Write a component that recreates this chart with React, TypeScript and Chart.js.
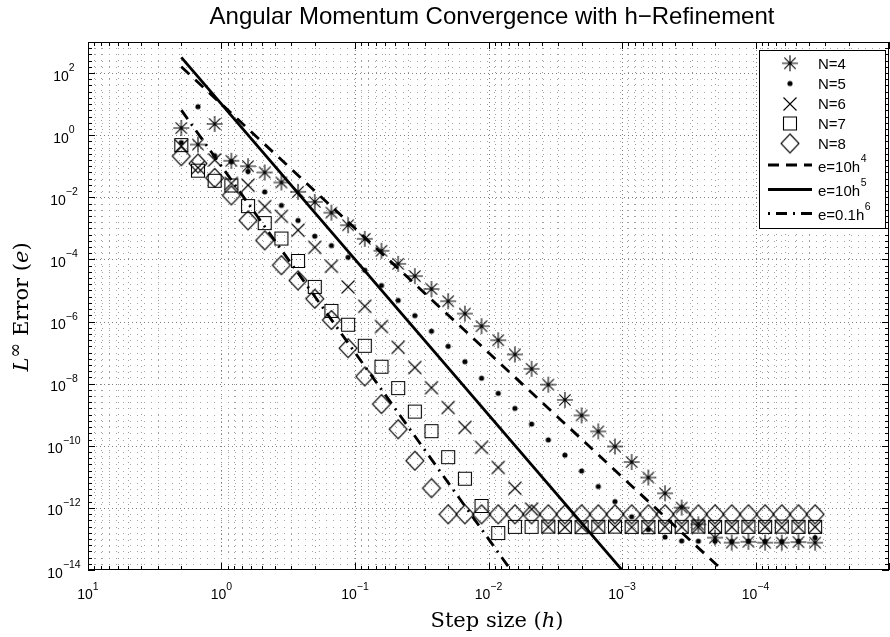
import React, { useEffect, useRef } from 'react';
import { Chart, registerables } from 'chart.js';

Chart.register(...registerables);

// ---------------- data ----------------
const H_STEP = [
  2, 1.5, 1.125, 0.84375, 0.6328, 0.4746, 0.356, 0.267, 0.2002, 0.1502,
  0.1126, 0.08447, 0.06335, 0.04751, 0.03564, 0.02673, 0.02005, 0.01503, 0.01128, 0.008457,
  0.006342, 0.004757, 0.003568, 0.002676, 0.002007, 0.001505, 0.001129, 0.0008466, 0.000635, 0.0004762,
  0.0003572, 0.0002679, 0.0002009, 0.0001507, 0.000113, 0.00008476, 0.00006357, 0.00004768, 0.00003576,
];

const ERR_N4 = [
  1.7, 0.5, 2.3, 0.15, 0.1, 0.063, 0.03, 0.015, 7.1e-3, 3.2e-3,
  1.26e-3, 4.6e-4, 1.9e-4, 7.2e-5, 2.9e-5, 1.12e-5, 4.5e-6, 1.8e-6, 7.1e-7, 2.5e-7,
  8.7e-8, 3.0e-8, 9.3e-9, 3.0e-9, 9.5e-10, 2.9e-10, 9.5e-11, 3.0e-11, 9.5e-12, 2.95e-12,
  1.02e-12, 2.95e-13, 1.1e-13, 7.6e-14, 8.1e-14, 7.6e-14, 7.6e-14, 7.9e-14, 7.6e-14,
];

const ERR_N5 = [
  0.58, 8.3, 0.22, 0.14, 0.068, 0.015, 5.5e-3, 1.8e-3, 5.6e-4, 2.8e-4,
  1.17e-4, 4.5e-5, 1.45e-5, 4.8e-6, 1.55e-6, 4.9e-7, 1.6e-7, 5.1e-8, 1.5e-8, 4.9e-9,
  1.6e-9, 5.0e-10, 1.55e-10, 5.0e-11, 1.55e-11, 4.9e-12, 1.6e-12, 5.2e-13, 2.0e-13, 1.15e-13,
  8.7e-14, 8.5e-14, 8.5e-14, 8.4e-14, 8.6e-14, 8.5e-14, 8.4e-14, 8.6e-14, 1.1e-13,
];

const ERR_N6 = [
  0.45, 0.09, 0.16, 0.028, 0.0245, 5.0e-3, 2.45e-3, 8.7e-4, 2.45e-4, 6.0e-5,
  1.3e-5, 3.1e-6, 6.9e-7, 1.48e-7, 3.3e-8, 7.4e-9, 1.7e-9, 3.9e-10, 8.9e-11, 2.0e-11,
  4.3e-12, 9.1e-13, 2.45e-13, 2.4e-13, 2.45e-13, 2.5e-13, 2.45e-13, 2.4e-13, 2.45e-13, 2.5e-13,
  2.45e-13, 2.4e-13, 2.45e-13, 2.45e-13, 2.5e-13, 2.45e-13, 2.4e-13, 2.45e-13, 2.45e-13,
];

const ERR_N7 = [
  0.48, 0.072, 0.034, 0.024, 5.2e-3, 1.48e-3, 4.7e-4, 8.9e-5, 1.3e-5, 2.2e-6,
  7.9e-7, 1.66e-7, 3.5e-8, 7.2e-9, 1.26e-9, 2.95e-10, 4.3e-11, 8.7e-12, 1.15e-12, 1.55e-13,
  2.45e-13, 2.45e-13, 2.5e-13, 2.45e-13, 2.4e-13, 2.45e-13, 2.5e-13, 2.45e-13, 2.4e-13, 2.45e-13,
  2.45e-13, 2.5e-13, 2.45e-13, 2.4e-13, 2.45e-13, 2.45e-13, 2.5e-13, 2.45e-13, 2.45e-13,
];

const ERR_N8 = [
  0.21, 0.123, 0.042, 0.0115, 1.8e-3, 4.1e-4, 6.5e-5, 2.1e-5, 5.4e-6, 1.12e-6,
  1.38e-7, 1.7e-8, 2.2e-9, 3.4e-10, 3.3e-11, 4.3e-12, 6.2e-13, 6.2e-13, 6.2e-13, 6.2e-13,
  6.2e-13, 6.2e-13, 6.2e-13, 6.2e-13, 6.2e-13, 6.2e-13, 6.2e-13, 6.2e-13, 6.2e-13, 6.2e-13,
  6.2e-13, 6.2e-13, 6.2e-13, 6.2e-13, 6.2e-13, 6.2e-13, 6.2e-13, 6.2e-13, 6.2e-13,
];

// reference power-law lines (end points)
const REF_H = [2, 3.576e-5];
const REF_10H4 = [160, 1.635e-17];
const REF_10H5 = [320, 5.848e-22];
const REF_01H6 = [6.4, 2.091e-28];

const SERIES_LABELS = ['N=4', 'N=5', 'N=6', 'N=7', 'N=8'];
const REF_LABELS = [['e=10h', '4'], ['e=10h', '5'], ['e=0.1h', '6']];
const TITLE = 'Angular Momentum Convergence with h\u2212Refinement';
const X_LABEL_EXP = [1, 0, -1, -2, -3, -4, -5];
const Y_LABEL_EXP = [2, 0, -2, -4, -6, -8, -10, -12, -14];
const X_MIN = 1e-5;
const X_MAX = 10;
const Y_MIN = 1e-14;
const Y_MAX = 1e3;

// ---------------- styling helpers ----------------
const SANS = '"Liberation Sans", Arial, Helvetica, sans-serif';
const SERIF = '"DejaVu Serif", "Liberation Serif", serif';
const KINDS = ['star', 'dot', 'x', 'square', 'diamond'];

function makeMarker(kind: string): HTMLCanvasElement {
  const c = document.createElement('canvas');
  const S = 24;
  c.width = S;
  c.height = S;
  const g = c.getContext('2d') as CanvasRenderingContext2D;
  const m = S / 2;
  g.strokeStyle = '#000';
  g.fillStyle = '#000';
  g.lineWidth = 1.1;
  g.beginPath();
  if (kind === 'star') {
    const r = 8;
    [0, 45, 90, 135].forEach((deg) => {
      const a = (deg * Math.PI) / 180;
      const dx = r * Math.cos(a);
      const dy = r * Math.sin(a);
      g.moveTo(m - dx, m - dy);
      g.lineTo(m + dx, m + dy);
    });
    g.stroke();
  } else if (kind === 'dot') {
    g.arc(m, m, 2.6, 0, Math.PI * 2);
    g.fill();
  } else if (kind === 'x') {
    const d = 6.5;
    g.moveTo(m - d, m - d);
    g.lineTo(m + d, m + d);
    g.moveTo(m + d, m - d);
    g.lineTo(m - d, m + d);
    g.stroke();
  } else if (kind === 'square') {
    g.rect(m - 6.5, m - 6.5, 13, 13);
    g.stroke();
  } else {
    g.moveTo(m, m - 9.5);
    g.lineTo(m + 9, m);
    g.lineTo(m, m + 9.5);
    g.lineTo(m - 9, m);
    g.closePath();
    g.stroke();
  }
  return c;
}

type Part = { t: string; font: string; dy?: number };

function drawParts(ctx: CanvasRenderingContext2D, parts: Part[], cx: number, baseline: number) {
  let total = 0;
  parts.forEach((p) => {
    ctx.font = p.font;
    total += ctx.measureText(p.t).width;
  });
  let x = cx - total / 2;
  ctx.textAlign = 'left';
  ctx.textBaseline = 'alphabetic';
  parts.forEach((p) => {
    ctx.font = p.font;
    ctx.fillText(p.t, x, baseline + (p.dy || 0));
    x += ctx.measureText(p.t).width;
  });
}

function expStr(e: number) {
  return e < 0 ? '\u2212' + String(-e) : String(e);
}

function seg(ctx: CanvasRenderingContext2D, x1: number, y1: number, x2: number, y2: number) {
  ctx.beginPath();
  ctx.moveTo(x1, y1);
  ctx.lineTo(x2, y2);
  ctx.stroke();
}

function makePlugin(markers: Record<string, HTMLCanvasElement>) {
  return {
    id: 'matlabFrame',
    beforeDatasetsDraw(chart: any) {
      const { ctx, chartArea: a, scales } = chart;
      const xs = scales.x;
      const ys = scales.y;
      ctx.save();
      ctx.beginPath();
      ctx.rect(a.left, a.top, a.right - a.left, a.bottom - a.top);
      ctx.clip();
      ctx.lineWidth = 1;
      for (let e = -5; e <= 0; e++) {
        for (let m = 1; m <= 9; m++) {
          const v = m * Math.pow(10, e);
          const px = Math.round(xs.getPixelForValue(v)) + 0.5;
          ctx.strokeStyle = m === 1 ? '#808080' : '#9c9c9c';
          ctx.setLineDash(m === 1 ? [1, 3] : [1, 5]);
          seg(ctx, px, a.top, px, a.bottom);
        }
      }
      for (let j = -70; j <= 15; j++) {
        const v = Math.pow(10, j / 5);
        const py = Math.round(ys.getPixelForValue(v)) + 0.5;
        const major = j % 10 === 0;
        ctx.strokeStyle = major ? '#808080' : '#a4a4a4';
        ctx.setLineDash(major ? [1, 3] : [1, 6]);
        seg(ctx, a.left, py, a.right, py);
      }
      ctx.restore();
    },
    afterDatasetsDraw(chart: any) {
      const { ctx, chartArea: a, scales } = chart;
      const xs = scales.x;
      const ys = scales.y;
      ctx.save();
      ctx.setLineDash([]);
      ctx.strokeStyle = '#000';
      ctx.lineWidth = 1;
      ctx.strokeRect(a.left + 0.5, a.top + 0.5, a.right - a.left - 1, a.bottom - a.top - 1);
      seg(ctx, a.left, a.bottom - 0.5, a.right, a.bottom - 0.5);

      // x ticks (top and bottom)
      for (let e = -5; e <= 1; e++) {
        for (let m = 1; m <= 9; m++) {
          const v = m * Math.pow(10, e);
          if (v > X_MAX) break;
          const px = Math.round(xs.getPixelForValue(v)) + 0.5;
          const len = m === 1 ? 7 : 4;
          seg(ctx, px, a.bottom, px, a.bottom - len);
          seg(ctx, px, a.top, px, a.top + len);
        }
      }
      // y ticks (left and right)
      for (let j = -70; j <= 15; j++) {
        const v = Math.pow(10, j / 5);
        const py = Math.round(ys.getPixelForValue(v)) + 0.5;
        const len = j % 10 === 0 ? 7 : 4;
        seg(ctx, a.left, py, a.left + len, py);
        seg(ctx, a.right, py, a.right - len, py);
      }

      // tick labels
      ctx.fillStyle = '#000';
      X_LABEL_EXP.forEach((e) => {
        const px = xs.getPixelForValue(Math.pow(10, e));
        if (px > 885) return;
        drawParts(
          ctx,
          [
            { t: '10', font: `14px ${SANS}` },
            { t: expStr(e), font: `10.5px ${SANS}`, dy: -9 },
          ],
          px,
          a.bottom + 29
        );
      });
      Y_LABEL_EXP.forEach((e) => {
        const py = ys.getPixelForValue(Math.pow(10, e));
        drawParts(
          ctx,
          [
            { t: '10', font: `14px ${SANS}` },
            { t: expStr(e), font: `10.5px ${SANS}`, dy: -9.5 },
          ],
          64,
          py + 7.5
        );
      });

      // title
      ctx.font = `24px ${SANS}`;
      ctx.textAlign = 'center';
      ctx.textBaseline = 'alphabetic';
      ctx.fillText(TITLE, 492, 24);

      // x label
      drawParts(
        ctx,
        [
          { t: 'Step size (', font: `21px ${SERIF}` },
          { t: 'h', font: `italic 21px ${SERIF}` },
          { t: ')', font: `21px ${SERIF}` },
        ],
        497,
        627
      );

      // y label
      ctx.save();
      ctx.translate(28, 307);
      ctx.rotate(-Math.PI / 2);
      drawParts(
        ctx,
        [
          { t: 'L', font: `italic 21px ${SERIF}` },
          { t: '\u221E', font: `18px ${SERIF}`, dy: -7 },
          { t: ' Error (', font: `21px ${SERIF}` },
          { t: 'e', font: `italic 21px ${SERIF}` },
          { t: ')', font: `21px ${SERIF}` },
        ],
        0,
        0
      );
      ctx.restore();

      // legend
      ctx.fillStyle = '#fff';
      ctx.fillRect(759, 50, 127, 179);
      ctx.strokeStyle = '#000';
      ctx.lineWidth = 1;
      ctx.strokeRect(759.5, 50.5, 126, 178);
      const rowY = [63.3, 83.5, 104, 123.5, 143.5];
      ctx.fillStyle = '#000';
      KINDS.forEach((k, i) => {
        const img = markers[k];
        ctx.drawImage(img, 790 - img.width / 2, rowY[i] - img.height / 2);
        ctx.font = `15px ${SANS}`;
        ctx.textAlign = 'left';
        ctx.textBaseline = 'alphabetic';
        ctx.fillText(SERIES_LABELS[i], 818, rowY[i] + 5.3);
      });
      const lineY = [165, 189.5, 213.5];
      const dashes = [[11, 7], [], [11, 6, 2, 6]];
      const offsets = [0, 0, 17];
      REF_LABELS.forEach((lab, i) => {
        ctx.strokeStyle = '#000';
        ctx.lineWidth = 3;
        ctx.setLineDash(dashes[i]);
        ctx.lineDashOffset = offsets[i];
        seg(ctx, 768, lineY[i], 812, lineY[i]);
        ctx.setLineDash([]);
        ctx.lineDashOffset = 0;
        ctx.font = `15px ${SANS}`;
        ctx.textAlign = 'left';
        ctx.fillText(lab[0], 818, lineY[i] + 6.5);
        const w = ctx.measureText(lab[0]).width;
        ctx.font = `10.5px ${SANS}`;
        ctx.fillText(lab[1], 818 + w + 0.5, lineY[i] - 3.5);
      });
      ctx.restore();
    },
  };
}

export default function App() {
  const ref = useRef<HTMLCanvasElement>(null);

  useEffect(() => {
    const canvas = ref.current;
    if (!canvas) return;
    const markers: Record<string, HTMLCanvasElement> = {};
    KINDS.forEach((k) => {
      markers[k] = makeMarker(k);
    });
    const series = [ERR_N4, ERR_N5, ERR_N6, ERR_N7, ERR_N8];
    const pointSets = series.map((arr, i) => ({
      label: SERIES_LABELS[i],
      data: H_STEP.map((h, k) => ({ x: h, y: arr[k] })),
      pointStyle: markers[KINDS[i]],
      pointRadius: 6,
      showLine: false,
      order: 5 - i,
    }));
    const refData = [REF_10H4, REF_10H5, REF_01H6];
    const refDash = [[11, 8], [], [11, 6, 2, 6]];
    const refSets = refData.map((arr, i) => ({
      label: REF_LABELS[i].join('^'),
      data: REF_H.map((h, k) => ({ x: h, y: arr[k] })),
      showLine: true,
      borderColor: '#000',
      backgroundColor: '#000',
      borderWidth: 2.8,
      borderDash: refDash[i],
      pointRadius: 0,
      order: 0,
      clip: 0,
    }));

    const chart = new Chart(canvas, {
      type: 'scatter',
      data: { datasets: [...refSets, ...pointSets] as any },
      options: {
        animation: false,
        responsive: false,
        devicePixelRatio: 1,
        events: [],
        layout: { padding: { left: 88, top: 42, right: 4, bottom: 67 } },
        plugins: {
          legend: { display: false },
          tooltip: { enabled: false },
          title: { display: false },
        },
        scales: {
          x: {
            type: 'logarithmic',
            reverse: true,
            min: X_MIN,
            max: X_MAX,
            bounds: 'data',
            display: false,
          },
          y: {
            type: 'logarithmic',
            min: Y_MIN,
            max: Y_MAX,
            bounds: 'data',
            display: false,
          },
        },
      } as any,
      plugins: [makePlugin(markers) as any],
    });
    return () => chart.destroy();
  }, []);

  return (
    <div
      style={{
        position: 'fixed',
        left: 0,
        top: 0,
        width: 890,
        height: 637,
        overflow: 'hidden',
        background: '#fff',
      }}
    >
      <canvas ref={ref} width={896} height={637} style={{ display: 'block', width: 896, height: 637 }} />
    </div>
  );
}
